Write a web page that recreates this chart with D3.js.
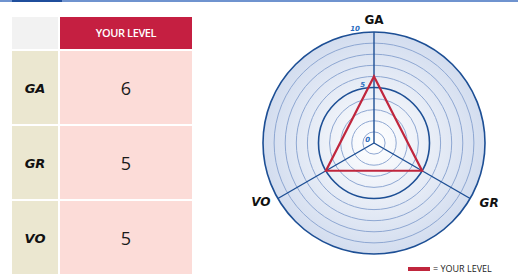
<!DOCTYPE html>
<html>
<head>
<meta charset="utf-8">
<script src="https://cdn.jsdelivr.net/npm/d3@7"></script>
<style>
  html, body { margin: 0; padding: 0; background: #fff; }
  svg { display: block; }
</style>
</head>
<body>
<svg id="chart" width="518" height="275"></svg>
<script>
// data
const axes = ["GA", "GR", "VO"];
const levels = [6, 5, 5];
const header = "YOUR LEVEL";
const ringTicks = [0, 5, 10];
const maxLevel = 10;

const svg = d3.select("#chart");

// top tab strip
svg.append("rect").attr("x", 0).attr("y", 0).attr("width", 518).attr("height", 2).attr("fill", "#6f93cf");
svg.append("rect").attr("x", 12).attr("y", 0).attr("width", 50).attr("height", 2).attr("fill", "#1f4e9c");

// ---- table ----
const table = svg.append("g");
const colX = [12, 60], colW = [46, 132];
const headY = 17, headH = 32, rowH = 73, gap = 2;

table.append("rect").attr("x", colX[0]).attr("y", headY).attr("width", colW[0]).attr("height", headH).attr("fill", "#f2f2f2");
table.append("rect").attr("x", colX[1]).attr("y", headY).attr("width", colW[1]).attr("height", headH).attr("fill", "#c51f41");
table.append("text").attr("x", colX[1] + colW[1] / 2).attr("y", headY + headH / 2 + 4)
  .attr("text-anchor", "middle").attr("fill", "#fff")
  .style("font", "600 11px 'Open Sans', sans-serif").style("letter-spacing", "-0.4px")
  .text(header);

const rows = table.selectAll("g.row").data(axes).join("g")
  .attr("class", "row")
  .attr("transform", (d, i) => `translate(0, ${headY + headH + gap + i * (rowH + gap)})`);

rows.append("rect").attr("x", colX[0]).attr("width", colW[0]).attr("height", rowH).attr("fill", "#ebe7d0");
rows.append("rect").attr("x", colX[1]).attr("width", colW[1]).attr("height", rowH).attr("fill", "#fcdcd8");
rows.append("text").attr("x", colX[0] + colW[0] / 2).attr("y", rowH / 2 + 5)
  .attr("text-anchor", "middle").attr("fill", "#111")
  .style("font", "italic bold 13px 'DejaVu Sans', sans-serif")
  .text(d => d);
rows.append("text").attr("x", colX[1] + colW[1] / 2).attr("y", rowH / 2 + 7)
  .attr("text-anchor", "middle").attr("fill", "#1a1a1a")
  .style("font", "18px 'Open Sans', sans-serif")
  .text((d, i) => levels[i]);

// ---- radar ----
const cx = 374, cy = 143, R = 111;
const r = d3.scaleLinear().domain([0, maxLevel]).range([0, R]);
const angle = d3.scaleLinear().domain([0, axes.length]).range([0, 2 * Math.PI]);
const pt = (i, v) => [cx + r(v) * Math.sin(angle(i)), cy - r(v) * Math.cos(angle(i))];

const defs = svg.append("defs");
const grad = defs.append("radialGradient").attr("id", "bg");
grad.append("stop").attr("offset", "0%").attr("stop-color", "#ffffff");
grad.append("stop").attr("offset", "100%").attr("stop-color", "#d3ddef");

const radar = svg.append("g");
radar.append("circle").attr("cx", cx).attr("cy", cy).attr("r", R).attr("fill", "url(#bg)");

radar.selectAll("circle.ring").data(d3.range(1, maxLevel + 1)).join("circle")
  .attr("class", "ring")
  .attr("cx", cx).attr("cy", cy).attr("r", d => r(d))
  .attr("fill", "none")
  .attr("stroke", d => d % 5 === 0 ? "#1d4f95" : "#8ea7d2")
  .attr("stroke-width", d => d % 5 === 0 ? 1.6 : 1);

radar.selectAll("line.axis").data(axes).join("line")
  .attr("class", "axis")
  .attr("x1", cx).attr("y1", cy)
  .attr("x2", (d, i) => pt(i, maxLevel)[0])
  .attr("y2", (d, i) => pt(i, maxLevel)[1])
  .attr("stroke", "#1d4f95").attr("stroke-width", 1.4);

radar.selectAll("text.tick").data(ringTicks).join("text")
  .attr("class", "tick")
  .attr("x", d => cx - 4 - r(d) * 0.09).attr("y", d => cy - r(d) - 1)
  .attr("text-anchor", "end").attr("fill", "#2a6cc0")
  .style("font", "italic bold 7px 'DejaVu Sans', sans-serif")
  .text(d => d);

radar.append("path")
  .attr("d", d3.line()(levels.map((v, i) => pt(i, v))) + "Z")
  .attr("fill", "none").attr("stroke", "#c0263d").attr("stroke-width", 2.2)
  .attr("stroke-linejoin", "miter");

const labelPos = [[0, -8], [19, 8.5], [-17, 7.5]];
radar.selectAll("text.lab").data(axes).join("text")
  .attr("class", "lab")
  .attr("x", (d, i) => pt(i, maxLevel)[0] + labelPos[i][0])
  .attr("y", (d, i) => pt(i, maxLevel)[1] + labelPos[i][1])
  .attr("text-anchor", "middle").attr("fill", "#111")
  .style("font", (d, i) => (i === 0 ? "bold" : "italic bold") + " 12px 'DejaVu Sans', sans-serif")
  .text(d => d);

// legend
svg.append("line").attr("x1", 408).attr("x2", 430).attr("y1", 269).attr("y2", 269)
  .attr("stroke", "#c0263d").attr("stroke-width", 4);
svg.append("text").attr("x", 433).attr("y", 272).attr("fill", "#222")
  .style("font", "9px 'Open Sans', sans-serif")
  .text("= " + header);
</script>
</body>
</html>
